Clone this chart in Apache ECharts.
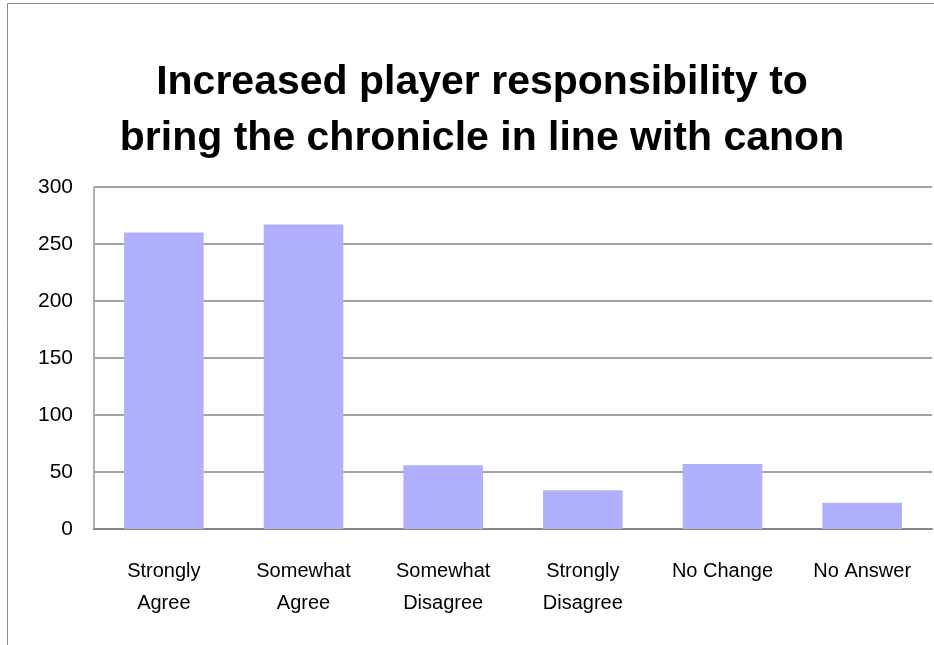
<!DOCTYPE html>
<html>
<head>
<meta charset="utf-8">
<script src="https://cdn.jsdelivr.net/npm/echarts@6/dist/echarts.min.js"></script>
<style>
  html, body { margin: 0; padding: 0; background: #fff; }
  #chart { width: 934px; height: 645px; }
</style>
</head>
<body>
<div id="chart"></div>
<script>
var categories = ['Strongly\nAgree', 'Somewhat\nAgree', 'Somewhat\nDisagree', 'Strongly\nDisagree', 'No Change', 'No Answer'];
var counts = [260, 267, 56, 34, 57, 23];
var yTicks = [0, 50, 100, 150, 200, 250, 300];

var chart = echarts.init(document.getElementById('chart'));
var option = {
  animation: false,
  title: {
    text: 'Increased player responsibility to\nbring the chronicle in line with canon',
    left: 477,
    textAlign: 'center',
    top: 50,
    textStyle: {
      fontFamily: 'Liberation Sans',
      fontWeight: 'bold',
      fontSize: 41,
      lineHeight: 56,
      color: '#000'
    }
  },
  graphic: [{
    type: 'rect',
    shape: { x: 7.5, y: 3.5, width: 1000, height: 1000 },
    style: { fill: 'none', stroke: '#8c8c8c', lineWidth: 1 },
    z: -1
  }],
  grid: { left: 94, right: 2, top: 187, bottom: 116 },
  xAxis: {
    type: 'category',
    data: categories,
    axisLine: { show: true, lineStyle: { color: '#868686', width: 2 } },
    axisTick: { show: false },
    axisLabel: {
      color: '#000',
      fontFamily: 'Liberation Sans',
      fontSize: 20,
      lineHeight: 32,
      margin: 26,
      interval: 0
    }
  },
  yAxis: {
    type: 'value',
    min: yTicks[0],
    max: yTicks[yTicks.length - 1],
    interval: 50,
    axisLine: { show: true, lineStyle: { color: '#b0b0b0', width: 2 } },
    axisTick: { show: false },
    splitLine: { show: true, lineStyle: { color: '#868686', width: 1.5 } },
    axisLabel: {
      color: '#000',
      fontFamily: 'Liberation Sans',
      fontSize: 21,
      margin: 21
    }
  },
  series: [{
    type: 'bar',
    data: counts,
    barWidth: '57%',
    itemStyle: { color: '#b0b0fe' }
  }]
};
chart.setOption(option);
</script>
</body>
</html>
